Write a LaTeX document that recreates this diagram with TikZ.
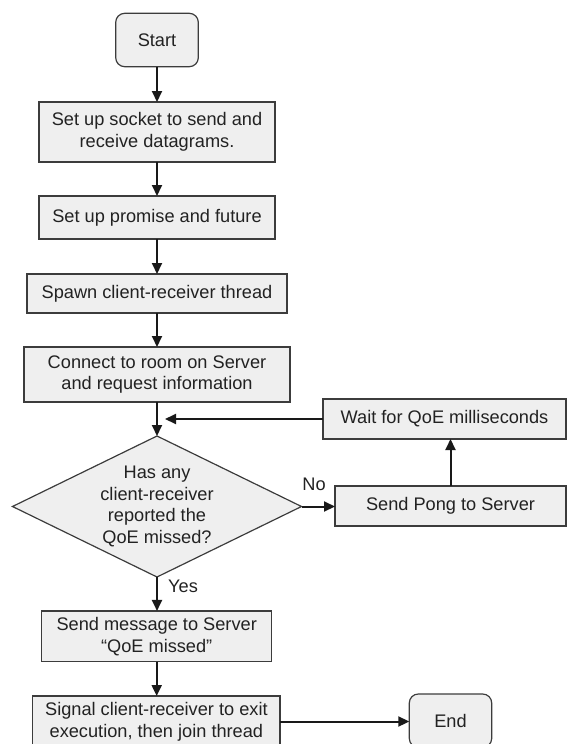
\documentclass[tikz,border=0pt]{standalone}
\usepackage{fontspec}
\setmainfont{Liberation Sans}
\usetikzlibrary{shapes.geometric,arrows.meta}
\definecolor{boxfill}{RGB}{239,239,239}
\definecolor{boxline}{RGB}{60,60,60}
\definecolor{txt}{RGB}{34,34,34}
\begin{document}
\begin{tikzpicture}[x=1pt,y=-1pt,
  every node/.style={font=\fontsize{18.2}{21.7}\selectfont, text=txt},
  procbox/.style={draw=boxline, fill=boxfill, line width=1.2pt, align=center, inner sep=0pt, outer sep=0pt},
  termbox/.style={procbox, rounded corners=9pt},
  flow/.style={line width=2pt, draw=black!90, -{Triangle[length=11pt,width=10pt]}}]
\useasboundingbox (0,0) rectangle (567,744);
\clip (0,0) rectangle (567,744);

\node[termbox, minimum width=82.6pt, minimum height=53.4pt] (start) at (157,40) {Start};
\node[procbox, minimum width=236pt, minimum height=60pt] (socket) at (157,132) {Set up socket to send and\\receive datagrams.};
\node[procbox, minimum width=236pt, minimum height=43pt] (promise) at (157,217.5) {Set up promise and future};
\node[procbox, minimum width=260pt, minimum height=39pt] (spawn) at (157,293.5) {Spawn client-receiver thread};
\node[procbox, minimum width=266pt, minimum height=55pt] (connect) at (157,374.5) {Connect to room on Server\\and request information};
\node[procbox, shape=diamond, minimum width=289pt, minimum height=141pt] (q) at (157,506.5) {};
\node[align=center] (qtext) at (q.center) {Has any\\client-receiver\\reported the\\QoE missed?};
\node[procbox, minimum width=243pt, minimum height=40pt] (wait) at (444.5,419) {Wait for QoE milliseconds};
\node[procbox, minimum width=231pt, minimum height=40pt] (pong) at (450.5,506) {Send Pong to Server};
\node[procbox, minimum width=230pt, minimum height=50.7pt] (msg) at (156.7,636.3) {Send message to Server\\“QoE missed”};
\node[procbox, minimum width=247.3pt, minimum height=51pt] (signal) at (156.4,721.5) {Signal client-receiver to exit\\execution, then join thread};
\node[termbox, minimum width=82.4pt, minimum height=53.4pt] (end) at (450.5,720.7) {End};

\node (nolabel) at (314,484) {No};
\node (yeslabel) at (183,586) {Yes};

\coordinate (merge) at (165,419);

\draw[flow] (start.south) -- (start.south |- socket.north);
\draw[flow] (socket.south) -- (socket.south |- promise.north);
\draw[flow] (promise.south) -- (promise.south |- spawn.north);
\draw[flow] (spawn.south) -- (spawn.south |- connect.north);
\draw[flow] (connect.south) -- (connect.south |- q.north);
\draw[flow] (wait.west) -- (merge);
\draw[flow] (q.east) -- (q.east -| pong.west);
\draw[flow] (pong.north) -- (pong.north |- wait.south);
\draw[flow] (q.south) -- (q.south |- msg.north);
\draw[flow] (msg.south) -- (msg.south |- signal.north);
\draw[flow] (signal.east) -- (signal.east -| end.west);
\end{tikzpicture}
\end{document}
